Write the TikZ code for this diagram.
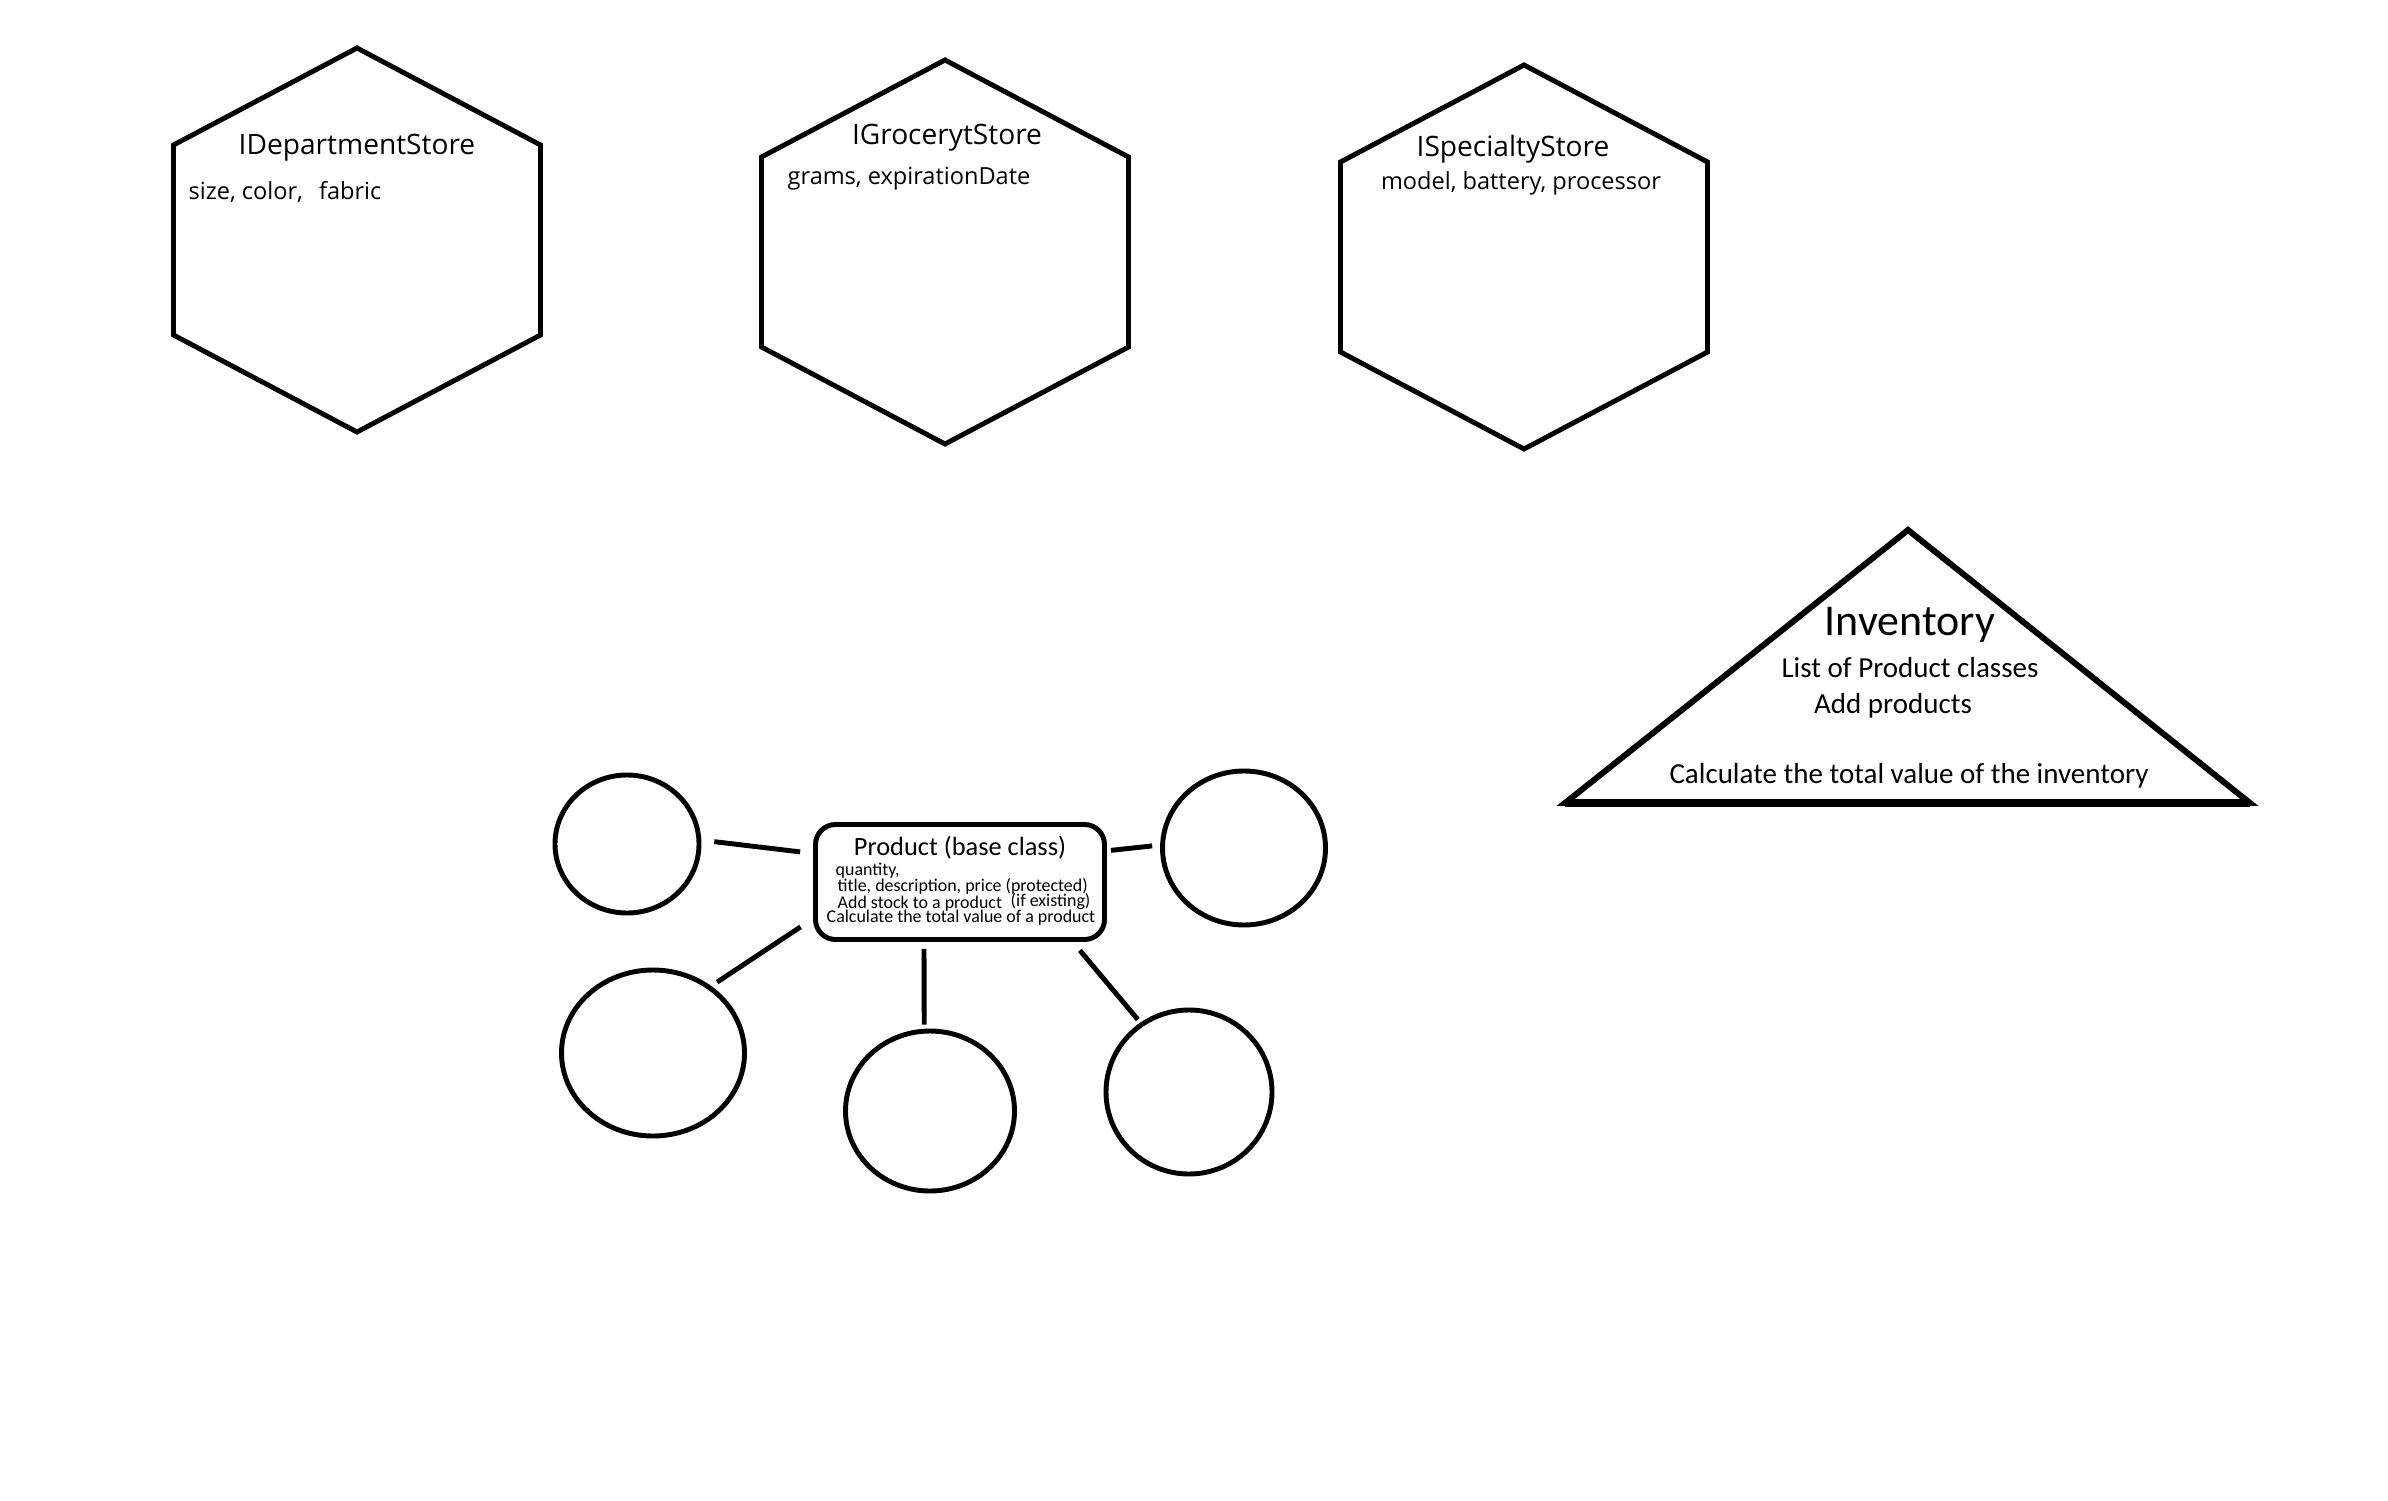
\documentclass[tikz,border=0pt]{standalone}
\usepackage{fontspec}
\setmainfont{Carlito}
\newfontfamily\hexfont{Open Sans}
\usetikzlibrary{shapes.geometric}

\begin{document}
\begin{tikzpicture}[
    outline/.style={line width=1.4pt},
    link/.style={line width=1.4pt},
    sub/.style={draw, ellipse, line width=1.4pt, inner sep=0pt},
    hextitle/.style={font=\hexfont\fontsize{8}{9}\selectfont, anchor=base, inner sep=0pt},
    hexattr/.style={font=\hexfont\fontsize{6.7}{8}\selectfont, anchor=base west, inner sep=0pt},
    invtext/.style={font=\fontsize{8.25}{10}\selectfont, anchor=base, inner sep=0pt},
    prodline/.style={font=\fontsize{5.1}{6}\selectfont, anchor=base west, inner sep=0pt},
  ]
  \useasboundingbox (0,0) rectangle (23.88,15);

  \coordinate (dept) at ( 3.57,12.60);
  \coordinate (groc) at ( 9.45,12.48);
  \coordinate (spec) at (15.24,12.43);
  \foreach \h in {dept,groc,spec}
    \draw[outline, shift={(\h)}] (0,1.92) -- (1.835,0.95) -- (1.835,-0.95) -- (0,-1.92)
      -- (-1.835,-0.95) -- (-1.835,0.95) -- cycle;

  \node[hextitle] (deptname) at ( 3.57,13.45) {IDepartmentStore};
  \node[hexattr]  (deptattr) at ( 1.88,13.00) {size, color,\hspace{0.1cm} fabric};
  \node[hextitle] (grocname) at ( 9.47,13.55) {IGrocerytStore};
  \node[hexattr]  (grocattr) at ( 7.87,13.15) {grams, expirationDate};
  \node[hextitle] (specname) at (15.13,13.43) {ISpecialtyStore};
  \node[hexattr, anchor=base] (specattr) at (15.21,13.10) {model, battery, processor};

  \coordinate (invtop)   at (19.08,9.70);
  \coordinate (invleft)  at (15.65,6.97);
  \coordinate (invright) at (22.50,6.97);
  \draw[line width=1.7pt, line join=miter] (invleft) -- (invtop) -- (invright) -- cycle;
  \draw[line width=2.4pt] (invleft) -- (invright);

  \node[font=\fontsize{12.5}{14}\selectfont, anchor=base, inner sep=0pt] (inv) at (19.10,8.65) {Inventory};
  \node[invtext] (invlist)  at (19.10,8.23) {List of Product classes};
  \node[invtext] (invadd)   at (18.93,7.87) {Add products};
  \node[invtext] (invtotal) at (19.09,7.17) {Calculate the total value of the inventory};

  \node[draw, rounded corners=0.2cm, line width=1.4pt, minimum width=2.89cm, minimum height=1.15cm] (P) at (9.60,6.18) {};
  \node[font=\fontsize{7.5}{9}\selectfont, anchor=base, inner sep=0pt] (Pname) at (9.60,6.45) {Product (base class)};
  \node[prodline] (Pq)     at ( 8.35,6.25) {quantity,};
  \node[prodline] (Pt)     at ( 8.37,6.09) {title, description, price (protected)};
  \node[prodline] (Padd)   at ( 8.37,5.92) {Add stock to a product};
  \node[prodline] (Pif)    at (10.10,5.94) {(if existing)};
  \node[prodline] (Ptotal) at ( 8.26,5.78) {Calculate the total value of a product};

  \node[sub, minimum width=1.44cm, minimum height=1.38cm] (s1) at ( 6.27,6.56) {};
  \node[sub, minimum width=1.63cm, minimum height=1.54cm] (s2) at (12.44,6.52) {};
  \node[sub, minimum width=1.83cm, minimum height=1.66cm] (s3) at ( 6.53,4.47) {};
  \node[sub, minimum width=1.69cm, minimum height=1.60cm] (s4) at ( 9.30,3.89) {};
  \node[sub, minimum width=1.66cm, minimum height=1.64cm] (s5) at (11.89,4.08) {};

  \draw[link, shorten <=0.13cm, shorten >=0.13cm] (s1.3) -- (P.169);
  \draw[link, shorten <=0.04cm, shorten >=0.08cm] (P.12) -- (s2.178);
  \draw[link, shorten <=0.07cm, shorten >=0.15cm] (s3.49) -- (P.194);
  \draw[link, shorten <=0.07cm, shorten >=0.04cm] (P.239) -- (s4.94);
  \draw[link, shorten <=0.11cm, shorten >=0.04cm] (P.332) -- (s5.125);
\end{tikzpicture}
\end{document}
